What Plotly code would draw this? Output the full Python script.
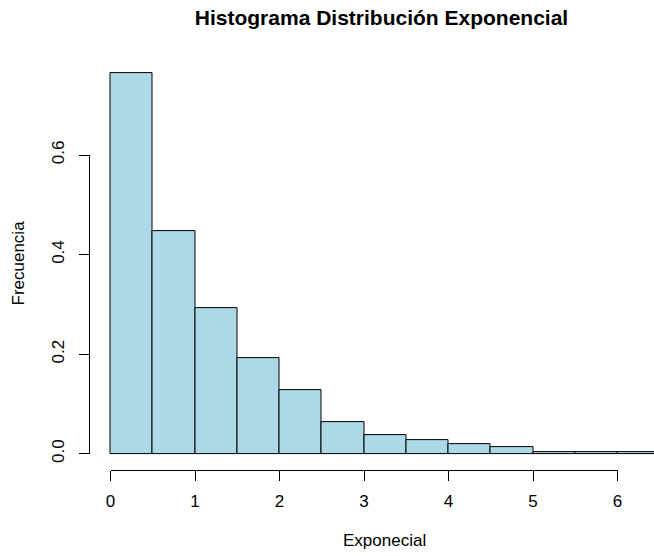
import plotly.graph_objects as go

# Histogram data (density scale), bins of width 0.5
breaks = [0.0, 0.5, 1.0, 1.5, 2.0, 2.5, 3.0, 3.5, 4.0, 4.5, 5.0, 5.5, 6.0, 6.5]
densities = [0.764, 0.448, 0.292, 0.192, 0.128, 0.064, 0.038, 0.028, 0.020, 0.014, 0.004, 0.004, 0.004]
x_ticks = [0, 1, 2, 3, 4, 5, 6]
y_ticks = [0.0, 0.2, 0.4, 0.6]
y_ticktext = ["0.0", "0.2", "0.4", "0.6"]

title = "Histograma Distribución Exponencial"
xlabel = "Exponecial"
ylabel = "Frecuencia"

W, H = 654, 556
FONT = "Liberation Sans, Arial, sans-serif"

centers = [(breaks[i] + breaks[i + 1]) / 2 for i in range(len(densities))]
widths = [breaks[i + 1] - breaks[i] for i in range(len(densities))]

fig = go.Figure()
fig.add_trace(go.Bar(
    x=centers, y=densities, width=widths,
    marker=dict(color="#ADD8E6", line=dict(color="#000000", width=1)),
    showlegend=False, hoverinfo="skip",
))
# carrier trace for the R-style axes
fig.add_trace(go.Scatter(x=[], y=[], xaxis="x2", yaxis="y2",
                         showlegend=False, hoverinfo="skip"))

# pixel geometry (R-like plot region)
px_per_x = 84.5
x0_px = 110.5
left_px = 88.5
xmin = (left_px - x0_px) / px_per_x
xmax = xmin + (W - left_px) / px_per_x
y0_px = 453.7
px_per_y = 497.8
top_px, bot_px = 58.1, 468.9
ymin = -(bot_px - y0_px) / px_per_y
ymax = (y0_px - top_px) / px_per_y

tickfont = dict(family=FONT, size=17, color="#000000")

fig.update_layout(
    template="none",
    width=W, height=H,
    margin=dict(l=0, r=0, t=0, b=0, pad=0, autoexpand=False),
    paper_bgcolor="white", plot_bgcolor="rgba(0,0,0,0)",
    bargap=0,
    title=dict(text=title, x=381.5 / W, xanchor="center",
               y=1 - 18 / H, yanchor="middle", yref="container",
               font=dict(family=FONT, size=21, color="#000000", weight="bold")),
    xaxis=dict(domain=[left_px / W, 1.0], range=[xmin, xmax], visible=False,
               fixedrange=True, automargin=False),
    yaxis=dict(domain=[(H - bot_px) / H, (H - top_px) / H], range=[ymin, ymax],
               visible=False, fixedrange=True, automargin=False),
    xaxis2=dict(domain=[x0_px / W, (x0_px + 6 * px_per_x) / W], range=[0, 6],
                anchor="free", position=(H - 469.7) / H,
                showline=True, linecolor="#000000", linewidth=1,
                ticks="outside", ticklen=10, tickwidth=1, tickcolor="#000000",
                tickvals=x_ticks, ticktext=[str(v) for v in x_ticks],
                tickfont=tickfont, ticklabelstandoff=6, automargin=False,
                showgrid=False, zeroline=False, fixedrange=True),
    yaxis2=dict(domain=[(H - y0_px) / H, (H - (y0_px - 0.6 * px_per_y)) / H],
                range=[0, 0.6], anchor="free", position=left_px / W,
                showline=True, linecolor="#000000", linewidth=1,
                ticks="outside", ticklen=10, tickwidth=1, tickcolor="#000000",
                tickvals=y_ticks, ticktext=y_ticktext, tickangle=-90,
                tickfont=tickfont, ticklabelstandoff=8, automargin=False,
                showgrid=False, zeroline=False, fixedrange=True),
    annotations=[
        dict(text=xlabel, x=384.7 / W, y=1 - 540 / H, xref="paper", yref="paper",
             xanchor="center", yanchor="middle", showarrow=False,
             font=dict(family=FONT, size=17, color="#000000")),
        dict(text=ylabel, x=18 / W, y=1 - 263.5 / H, xref="paper", yref="paper",
             xanchor="center", yanchor="middle", showarrow=False, textangle=-90,
             font=dict(family=FONT, size=17, color="#000000")),
    ],
)

fig.write_html("out.html")
